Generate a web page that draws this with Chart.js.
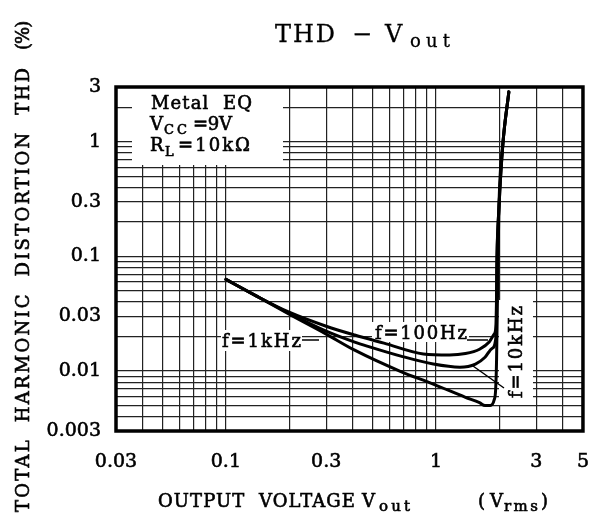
<!DOCTYPE html>
<html>
<head>
<meta charset="utf-8">
<script src="https://cdn.jsdelivr.net/npm/chart.js@4.4.1/dist/chart.umd.min.js"></script>
<style>
  html, body { margin: 0; padding: 0; background: #fff; }
</style>
</head>
<body>
<canvas id="thd" width="609" height="525"></canvas>
<script>
// grid lines and labelled ticks
const xGrid = [0.03, 0.04, 0.05, 0.06, 0.07, 0.08, 0.09, 0.1, 0.2, 0.3, 0.4, 0.5, 0.6, 0.7, 0.8, 0.9, 1, 2, 3, 4, 5];
const xTickLabels = [0.03, 0.1, 0.3, 1, 3, 5];
const yGrid = [0.003, 0.004, 0.005, 0.006, 0.007, 0.008, 0.009, 0.01, 0.02, 0.03, 0.04, 0.05, 0.06, 0.07, 0.08, 0.09,
  0.1, 0.2, 0.3, 0.4, 0.5, 0.6, 0.7, 0.8, 0.9, 1, 2, 3];
const yTickLabels = [0.003, 0.01, 0.03, 0.1, 0.3, 1, 3];

// f = 100Hz
const vout100 = [0.1, 0.14, 0.2, 0.3, 0.41, 0.565, 0.87, 1.16, 1.38, 1.61, 1.79, 1.89, 1.93, 1.95, 1.99, 2.08, 2.22];
const thd100 = [0.063, 0.045, 0.0326, 0.0246, 0.0206, 0.0175, 0.0141, 0.0138, 0.0142, 0.0155, 0.0179, 0.021, 0.0256, 0.1, 0.256, 0.96, 2.72];
// f = 10kHz
const vout10k = [0.1, 0.14, 0.2, 0.3, 0.41, 0.47, 0.68, 0.97, 1.3, 1.54, 1.71, 1.85, 1.93, 1.95, 1.99, 2.08, 2.22];
const thd10k = [0.063, 0.045, 0.0319, 0.0223, 0.0179, 0.0165, 0.0135, 0.0115, 0.0108, 0.0115, 0.0132, 0.0158, 0.0201, 0.1, 0.256, 0.96, 2.72];
// f = 1kHz
const vout1k = [0.1, 0.14, 0.2, 0.3, 0.41, 0.68, 0.97, 1.38, 1.61, 1.71, 1.81, 1.89, 1.92, 1.94, 1.96, 1.99, 2.08, 2.22];
const thd1k = [0.063, 0.045, 0.0313, 0.021, 0.0152, 0.0099, 0.0077, 0.0059, 0.0053, 0.005, 0.005, 0.0056, 0.0068, 0.0122, 0.0449, 0.256, 0.96, 2.72];

const SERIF = '"DejaVu Serif", serif';

function pts(xs, ys) {
  return xs.map((x, i) => ({ x, y: ys[i] }));
}

function curve(label, xs, ys) {
  return {
    label,
    data: pts(xs, ys),
    borderColor: "#000",
    borderWidth: 3,
    pointRadius: 0,
    cubicInterpolationMode: "monotone",
    borderJoinStyle: "round",
    borderCapStyle: "round",
  };
}

// text fitted to a width with letter spacing, slightly emboldened
function fit(ctx, str, x, y, w, size, stroke) {
  ctx.font = size + "px " + SERIF;
  ctx.letterSpacing = "0px";
  const m = ctx.measureText(str).width;
  const sp = str.length > 1 ? (w - m) / (str.length - 1) : 0;
  ctx.letterSpacing = Math.max(sp, -1).toFixed(2) + "px";
  ctx.fillText(str, x, y);
  const sw = stroke === undefined ? 0.6 : stroke;
  if (sw > 0) {
    ctx.lineWidth = sw;
    ctx.strokeStyle = "#000";
    ctx.strokeText(str, x, y);
  }
  ctx.letterSpacing = "0px";
}

const notes = {
  id: "notes",
  beforeDatasetsDraw(chart) {
    const ctx = chart.ctx;
    ctx.save();
    ctx.fillStyle = "#fff";
    ctx.fillRect(132, 86, 151, 79);    // condition box
    ctx.fillRect(221, 330, 81, 21);    // f=1kHz
    ctx.fillRect(372, 322, 97, 20);    // f=100Hz
    ctx.fillRect(499, 300, 34, 105);   // f=10kHz

    ctx.fillStyle = "#000";
    ctx.textBaseline = "alphabetic";
    ctx.textAlign = "left";
    fit(ctx, "Metal  EQ", 151, 109, 101, 18);
    fit(ctx, "V", 150, 130, 13, 18);
    fit(ctx, "CC", 164, 134, 23, 13);
    fit(ctx, "=9V", 193, 130, 39, 18);
    fit(ctx, "R", 150, 151, 13, 18);
    fit(ctx, "L", 165, 156, 11, 13);
    fit(ctx, "=10k\u03a9", 178, 151, 72, 18);

    fit(ctx, "f=1kHz", 222, 347, 79, 18);
    fit(ctx, "f=100Hz", 375, 339, 92, 18);
    ctx.save();
    ctx.translate(522, 398);
    ctx.rotate(-Math.PI / 2);
    fit(ctx, "f=10kHz", 0, 0, 92, 18);
    ctx.restore();

    ctx.strokeStyle = "#000";
    ctx.lineWidth = 1.5;
    ctx.beginPath();
    ctx.moveTo(302, 340); ctx.lineTo(319, 340);
    ctx.moveTo(467, 340); ctx.lineTo(488, 340);
    ctx.moveTo(473, 366); ctx.lineTo(504, 388);
    ctx.stroke();
    ctx.restore();
  },
  afterDraw(chart) {
    const ctx = chart.ctx;
    const a = chart.chartArea;
    ctx.save();
    ctx.strokeStyle = "#000";
    ctx.lineWidth = 3.5;
    ctx.strokeRect(a.left, a.top, a.right - a.left, a.bottom - a.top);

    ctx.fillStyle = "#000";
    ctx.textAlign = "left";
    ctx.textBaseline = "alphabetic";
    // title
    fit(ctx, "THD", 275, 42, 60, 24, 0.3);
    fit(ctx, "\u2212", 352, 42, 20, 24, 0.3);
    fit(ctx, "V", 385, 42, 24, 24, 0.3);
    fit(ctx, "out", 410, 47, 40, 18, 0.3);
    // x axis title
    fit(ctx, "OUTPUT  VOLTAGE", 158, 507, 197, 18);
    fit(ctx, "V", 362, 507, 16, 18);
    fit(ctx, "out", 379, 511, 31, 15);
    fit(ctx, "(V", 478, 507, 25, 18);
    fit(ctx, "rms", 504, 511, 34, 15);
    fit(ctx, ")", 541, 507, 7, 18);
    // y axis title and unit
    ctx.save();
    ctx.translate(29, 512);
    ctx.rotate(-Math.PI / 2);
    fit(ctx, "TOTAL  HARMONIC  DISTORTION  THD", 0, 0, 444, 18);
    ctx.restore();
    ctx.save();
    ctx.translate(29, 50);
    ctx.rotate(-Math.PI / 2);
    fit(ctx, "(%)", 0, 0, 22, 18);
    ctx.restore();
    ctx.restore();
  },
};

const tickFont = { family: SERIF, size: 19 };

new Chart(document.getElementById("thd"), {
  type: "line",
  data: {
    datasets: [
      curve("f=100Hz", vout100, thd100),
      curve("f=10kHz", vout10k, thd10k),
      curve("f=1kHz", vout1k, thd1k),
    ],
  },
  options: {
    responsive: false,
    animation: false,
    devicePixelRatio: 1,
    layout: { padding: { top: 87, right: 26, left: 0, bottom: 0 } },
    plugins: { legend: { display: false }, tooltip: { enabled: false } },
    scales: {
      x: {
        type: "logarithmic",
        min: 0.03,
        max: 5,
        afterBuildTicks: (s) => { s.ticks = xGrid.map((v) => ({ value: v })); },
        afterFit: (s) => { s.height = 94; },
        grid: { color: "#222", lineWidth: 1.2, drawTicks: false },
        border: { display: false },
        ticks: {
          autoSkip: false,
          maxRotation: 0,
          padding: 20,
          color: "#000",
          textStrokeColor: "#000",
          textStrokeWidth: 0.6,
          font: tickFont,
          callback: (v) => (xTickLabels.includes(v) ? String(v) : ""),
        },
      },
      y: {
        type: "logarithmic",
        min: 0.003,
        max: 3,
        afterBuildTicks: (s) => { s.ticks = yGrid.map((v) => ({ value: v })); },
        afterFit: (s) => { s.width = 116; },
        grid: { color: "#222", lineWidth: 1.2, drawTicks: false },
        border: { display: false },
        ticks: {
          autoSkip: false,
          padding: 15,
          color: "#000",
          textStrokeColor: "#000",
          textStrokeWidth: 0.6,
          font: tickFont,
          callback: (v) => (yTickLabels.includes(v) ? String(v) : ""),
        },
      },
    },
  },
  plugins: [notes],
});
</script>
</body>
</html>
